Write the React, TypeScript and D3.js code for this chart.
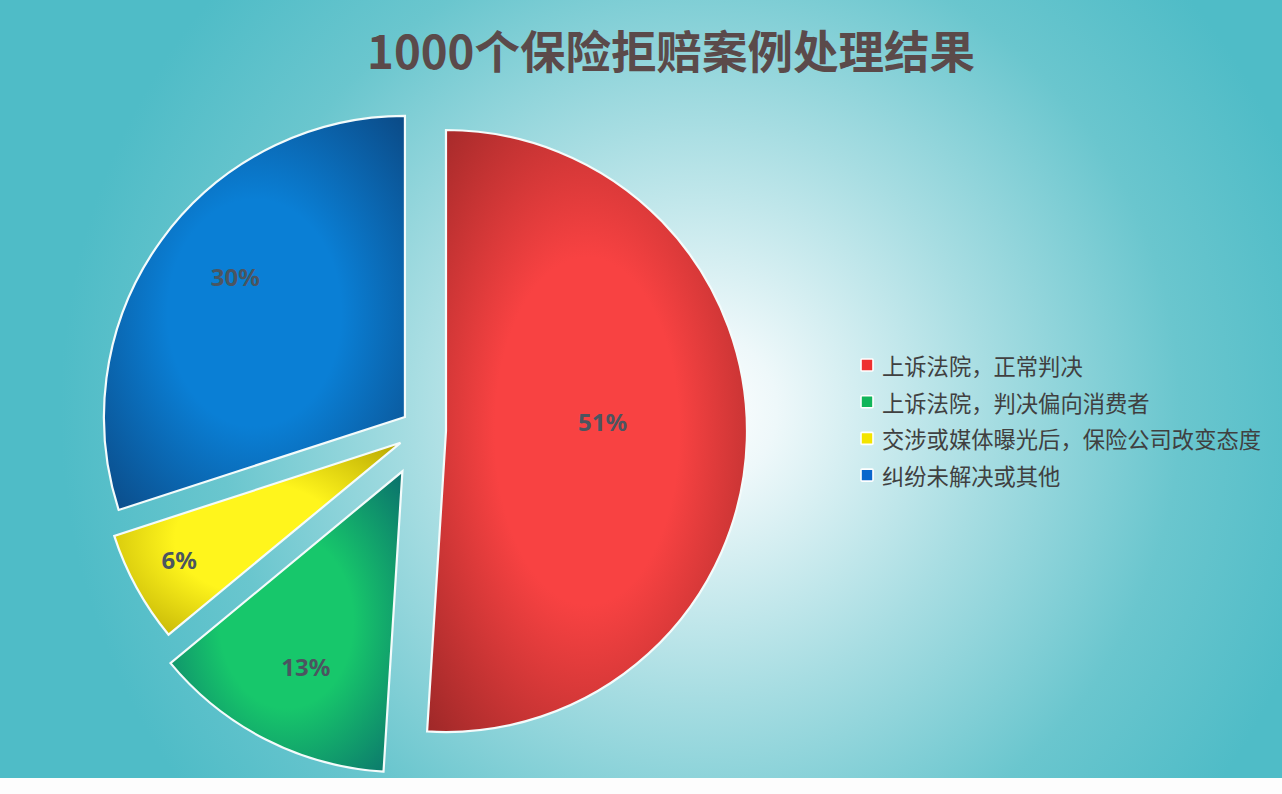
import React from "react";
import * as d3 from "d3";

const title = "1000个保险拒赔案例处理结果";
const categories = [
  "上诉法院，正常判决",
  "上诉法院，判决偏向消费者",
  "交涉或媒体曝光后，保险公司改变态度",
  "纠纷未解决或其他",
];
const values = [51, 13, 6, 30];
const labels = ["51%", "13%", "6%", "30%"];

// styling
const centerColors = ["#f84242", "#17c76b", "#fff51c", "#0a7fd5"];
const edgeColors = ["#9b2727", "#0a6c6c", "#b3a200", "#0b4883"];
const legendColors = ["#ee2f2f", "#11b55a", "#f3e400", "#0a66cc"];
const explode = [22.7, 46, 26, 22.7];
const labelRadius = [157, 218, 250, 220];
const labelShift = [-5.4, -0.7, 1.1, 3.6];

const W = 1282;
const H = 794;
const CX = 423.3;
const CY = 430.3;
const R = 301;

export default function App() {
  const pie = d3.pie<number>().sort(null).value((d) => d).startAngle(0).endAngle(2 * Math.PI);
  const arcs = pie(values);
  const arcGen = d3.arc<d3.PieArcDatum<number>>().innerRadius(0).outerRadius(R);

  return (
    <svg
      width={W}
      height={H}
      style={{ position: "absolute", left: 0, top: 0, display: "block" }}
      xmlns="http://www.w3.org/2000/svg"
    >
      <defs>
        <radialGradient id="bg" gradientUnits="userSpaceOnUse" cx={700} cy={410} r={640}>
          <stop offset="0" stopColor="#ffffff" />
          <stop offset="0.12" stopColor="#eef8fa" />
          <stop offset="0.45" stopColor="#a7dde2" />
          <stop offset="0.75" stopColor="#6ac6ce" />
          <stop offset="1" stopColor="#4fbcc7" />
        </radialGradient>
        {arcs.map((a, i) => (
          <radialGradient key={i} id={`g${i}`} cx="0.5" cy="0.5" r="0.72">
            <stop offset="0" stopColor={centerColors[i]} />
            <stop offset="0.4" stopColor={centerColors[i]} />
            <stop offset="1" stopColor={edgeColors[i]} />
          </radialGradient>
        ))}
      </defs>
      <rect x={0} y={0} width={W} height={H} fill="#fdfdfd" />
      <rect x={0} y={0} width={W} height={778} fill="url(#bg)" />
      <text
        x={671}
        y={49}
        textAnchor="middle"
        dominantBaseline="central"
        fontFamily="'Noto Sans CJK SC', 'Noto Sans', sans-serif"
        fontWeight={700}
        fontSize={45.5}
        fill="#5b4a4a"
      >
        {title}
      </text>
      <g>
        {arcs.map((a, i) => {
          const mid = (a.startAngle + a.endAngle) / 2;
          const ox = CX + explode[i] * Math.sin(mid);
          const oy = CY - explode[i] * Math.cos(mid);
          const la = mid + (labelShift[i] * Math.PI) / 180;
          const lx = ox + labelRadius[i] * Math.sin(la);
          const ly = oy - labelRadius[i] * Math.cos(la);
          return (
            <g key={i}>
              <path
                d={arcGen(a) || ""}
                transform={`translate(${ox},${oy})`}
                fill={`url(#g${i})`}
                stroke="#f4fbfb"
                strokeWidth={2.2}
                strokeLinejoin="miter"
              />
              <text
                x={lx}
                y={ly}
                textAnchor="middle"
                dominantBaseline="central"
                fontFamily="'Noto Sans', 'DejaVu Sans', sans-serif"
                fontWeight={700}
                fontSize={24}
                fill="#4b5560"
              >
                {labels[i]}
              </text>
            </g>
          );
        })}
      </g>
      <g>
        {categories.map((c, i) => {
          const y = 365 + i * 36.7;
          return (
            <g key={i}>
              <rect
                x={861}
                y={y - 6}
                width={12}
                height={12}
                fill={legendColors[i]}
                stroke="#ffffff"
                strokeWidth={1.6}
                rx={1}
              />
              <text
                x={882}
                y={y}
                dominantBaseline="central"
                fontFamily="'Noto Sans CJK SC', sans-serif"
                fontSize={22.3}
                fill="#404040"
              >
                {c}
              </text>
            </g>
          );
        })}
      </g>
    </svg>
  );
}
